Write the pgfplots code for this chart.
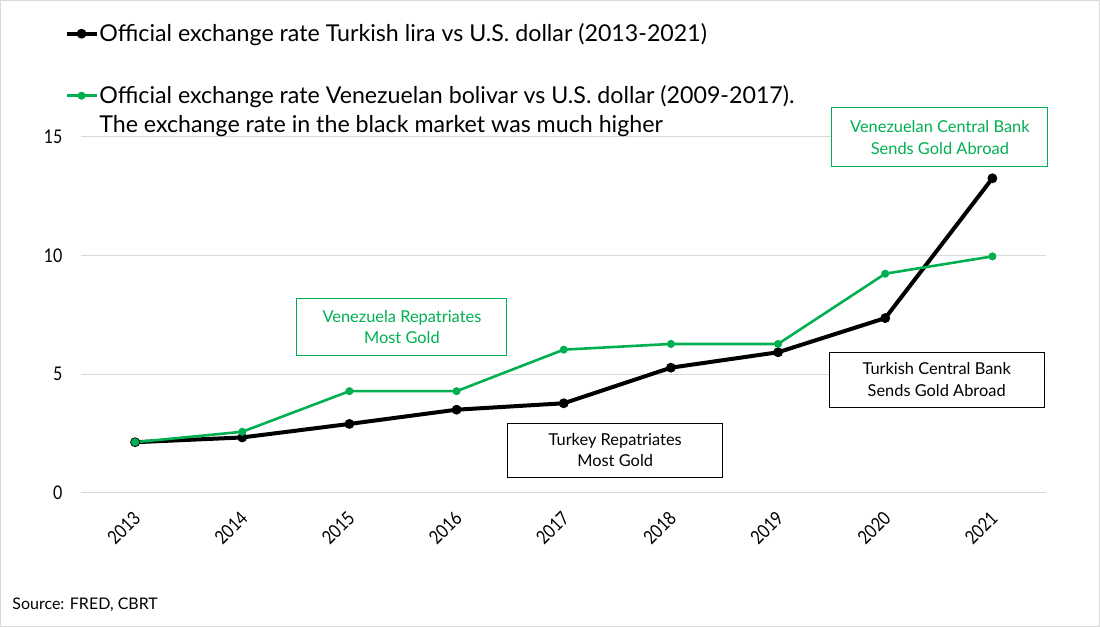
\documentclass[border=0pt]{standalone}
\usepackage{pgfplots}
\pgfplotsset{compat=1.18}
\usepackage{fontspec}
\setmainfont{Lato}
\newfontfamily\condfont[FakeStretch=0.85]{Lato}
\definecolor{vgreen}{RGB}{0,176,80}
\definecolor{gridgray}{RGB}{217,217,217}
\begin{document}
\begin{tikzpicture}[x=1pt,y=1pt]
\draw[gridgray, line width=0.6pt] (0.3,0.3) rectangle (549.7,313.2);
\begin{axis}[
  at={(40.75pt,67pt)}, anchor=south west,
  scale only axis, width=482.25pt, height=178pt,
  xmin=-0.5, xmax=8.5, ymin=0, ymax=15,
  clip=false,
  axis line style={draw=none},
  major tick length=0pt,
  ymajorgrids, grid style={gridgray, line width=0.5pt},
  ytick={0,5,10,15},
  xtick={0,...,8},
  xticklabels={2013,2014,2015,2016,2017,2018,2019,2020,2021},
  /pgf/number format/assume math mode=true,
  tick label style={font=\condfont\fontsize{9.4}{11}\selectfont},
  yticklabel style={xshift=-6pt},
  xticklabel style={xshift=-1.5pt, yshift=-3.5pt, rotate=45, anchor=north east},
  legend style={at={(-0.018,1.325)}, anchor=north west, draw=none, fill=none,
    inner sep=0pt, row sep=0pt,
    font=\fontsize{11.6}{14}\selectfont,
    nodes={inner xsep=0.4pt, inner ysep=0pt, text height=10pt, text depth=4.5pt},
    cells={anchor=base west}},
  legend image code/.code={\draw[mark repeat=2, mark phase=2, #1] plot coordinates {(0pt,4pt) (7.5pt,4pt) (15pt,4pt)};},
]
\addplot[black, line width=2pt, mark=*, mark size=2.2pt, mark options={line width=0.5pt}] coordinates {(0,2.14) (1,2.34) (2,2.91) (3,3.51) (4,3.78) (5,5.28) (6,5.93) (7,7.37) (8,13.26)};
\addlegendentry[text depth=21pt]{Official exchange rate Turkish lira vs U.S. dollar (2013-2021)}
\addplot[vgreen, line width=1.3pt, mark=*, mark size=1.8pt, mark options={fill=vgreen, line width=0.4pt}] coordinates {(0,2.14) (1,2.58) (2,4.29) (3,4.29) (4,6.04) (5,6.28) (6,6.28) (7,9.24) (8,9.97)};
\addlegendentry{Official exchange rate Venezuelan bolivar vs U.S. dollar (2009-2017).}
\addlegendimage{empty legend}
\addlegendentry{The exchange rate in the black market was much higher}
\node[draw=vgreen, text=vgreen, line width=0.5pt, minimum width=105pt, minimum height=28.5pt, align=center, inner sep=0pt, font=\fontsize{8.2}{10.8}\selectfont] at (axis cs:2.49,7.0) {Venezuela Repatriates\\Most Gold};
\node[draw=black, line width=0.5pt, minimum width=107.5pt, minimum height=27pt, align=center, inner sep=0pt, font=\fontsize{8.2}{10.8}\selectfont] at (axis cs:4.48,1.81) {Turkey Repatriates\\Most Gold};
\node[draw=vgreen, text=vgreen, fill=white, line width=0.5pt, minimum width=108pt, minimum height=29.5pt, align=center, inner sep=0pt, font=\fontsize{8.2}{10.8}\selectfont] at (axis cs:7.51,14.98) {Venezuelan Central Bank\\Sends Gold Abroad};
\node[draw=black, fill=white, line width=0.5pt, minimum width=107.5pt, minimum height=27.5pt, align=center, inner sep=0pt, font=\fontsize{8.2}{10.8}\selectfont] at (axis cs:7.48,4.77) {Turkish Central Bank\\Sends Gold Abroad};
\end{axis}
\node[anchor=west, inner sep=0pt, font=\fontsize{8}{9.5}\selectfont] at (6pt,11pt) {Source: FRED, CBRT};
\end{tikzpicture}
\end{document}
